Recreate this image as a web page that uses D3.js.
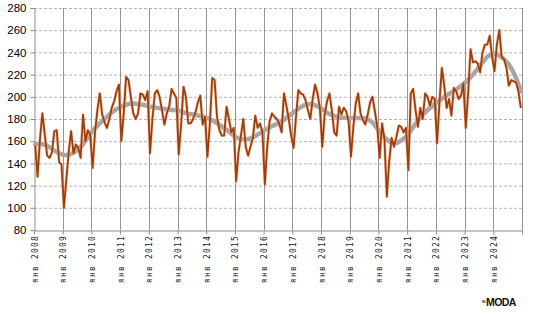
<!DOCTYPE html>
<html>
<head>
<meta charset="utf-8">
<script src="https://cdn.jsdelivr.net/npm/d3@7"></script>
<style>
  html, body { margin: 0; padding: 0; background: #fff; }
  svg { display: block; }
</style>
</head>
<body>
<div id="chart"></div>
<script>
// годы (категории оси X)
const years = [2008, 2009, 2010, 2011, 2012, 2013, 2014, 2015, 2016,
               2017, 2018, 2019, 2020, 2021, 2022, 2023, 2024];
const monthLabel = "янв";

// помесячные значения индекса, янв..дек
const v2008 = [156, 128, 162, 185, 166, 147, 145, 150, 169, 170, 141, 139];
const v2009 = [100, 125, 150, 169, 149, 157, 154, 145, 184, 160, 170, 166];
const v2010 = [136, 168, 188, 203, 184, 177, 172, 180, 190, 196, 205, 211];
const v2011 = [160, 185, 218, 215, 200, 185, 180, 185, 203, 202, 197, 205];
const v2012 = [149, 180, 203, 206, 200, 188, 175, 185, 191, 207, 203, 199];
const v2013 = [148, 175, 209, 200, 176, 176, 180, 186, 195, 201, 175, 182];
const v2014 = [146, 175, 217, 215, 182, 170, 165, 165, 191, 180, 168, 172];
const v2015 = [124, 150, 165, 180, 155, 147, 155, 163, 183, 172, 176, 168];
const v2016 = [121, 155, 178, 185, 182, 180, 176, 168, 203, 192, 180, 165];
const v2017 = [154, 181, 206, 203, 202, 197, 188, 180, 198, 211, 203, 190];
const v2018 = [155, 184, 196, 203, 188, 168, 165, 191, 184, 190, 187, 178];
const v2019 = [146, 173, 194, 203, 185, 179, 175, 184, 195, 200, 187, 173];
const v2020 = [145, 176, 162, 110, 142, 163, 155, 164, 174, 173, 168, 172];
const v2021 = [134, 203, 207, 188, 173, 190, 180, 203, 200, 192, 200, 198];
const v2022 = [158, 195, 226, 210, 190, 198, 183, 208, 205, 198, 201, 212];
const v2023 = [172, 204, 243, 231, 232, 230, 222, 240, 247, 247, 255, 236];
const v2024 = [223, 247, 260, 236, 234, 226, 210, 215, 214, 213, 205, 190];

const trend = [157, 158, 155, 150, 147, 148, 152, 160, 170, 176, 182, 188,
               191, 194, 194, 193, 191, 190, 189, 188, 188, 185, 184, 183,
               181, 178, 173, 169, 163, 161, 162, 166, 170, 174, 176, 181,
               186, 191, 194, 193, 189, 184, 182, 181, 181, 181, 181, 178,
               168, 161, 157, 160, 166, 176, 184, 190, 195, 200, 204, 208,
               213, 220, 228, 237, 240, 236, 230, 218, 205];

const yTicks = [80, 100, 120, 140, 160, 180, 200, 220, 240, 260, 280];

const series = [v2008, v2009, v2010, v2011, v2012, v2013, v2014, v2015, v2016,
                v2017, v2018, v2019, v2020, v2021, v2022, v2023, v2024].flat();
const nMonths = years.length * 12;

const W = 541, H = 316;
const plotLeft = 34, plotRight = 522, plotTop = 8, plotBottom = 230;

const svg = d3.select("#chart").append("svg")
    .attr("width", W)
    .attr("height", H);

const x = d3.scaleLinear().domain([0, nMonths]).range([plotLeft, plotRight]);
const y = d3.scaleLinear().domain([80, 280]).range([plotBottom, plotTop]);

// горизонтальная сетка (пунктир)
svg.append("g")
    .selectAll("line")
    .data(yTicks.filter(d => d > 80))
    .join("line")
    .attr("x1", plotLeft).attr("x2", plotRight)
    .attr("y1", d => y(d) + 0.5).attr("y2", d => y(d) + 0.5)
    .attr("stroke", "#b4b4b4")
    .attr("stroke-dasharray", "3,2");

// вертикальная сетка по годам
const yearTicks = years.map((d, i) => i * 12).concat([nMonths]);
svg.append("g")
    .selectAll("line")
    .data(yearTicks.slice(1))
    .join("line")
    .attr("x1", d => Math.round(x(d)) + 0.5).attr("x2", d => Math.round(x(d)) + 0.5)
    .attr("y1", plotTop).attr("y2", plotBottom)
    .attr("stroke", "#939393");

// ось Y
const yAxis = svg.append("g")
    .attr("transform", `translate(${plotLeft + 0.5},0)`)
    .call(d3.axisLeft(y).tickValues(yTicks).tickSize(4).tickPadding(4).tickSizeOuter(0));
yAxis.select(".domain").attr("stroke", "#8c8c8c");
yAxis.selectAll(".tick line").attr("stroke", "#8c8c8c");
yAxis.selectAll("text")
    .attr("font-family", "Liberation Sans, Arial, sans-serif")
    .attr("font-size", 11.5)
    .attr("fill", "#000");

// ось X
const xAxis = svg.append("g")
    .attr("transform", `translate(0,${plotBottom + 0.5})`)
    .call(d3.axisBottom(x).tickValues(yearTicks).tickSize(4).tickSizeOuter(0).tickFormat(""));
xAxis.select(".domain").attr("stroke", "#8c8c8c");
xAxis.selectAll(".tick line").attr("stroke", "#8c8c8c");

svg.append("g")
    .selectAll("text")
    .data(years)
    .join("text")
    .attr("transform", (d, i) => `translate(${x(i * 12) + 1},${plotBottom + 5}) rotate(-90)`)
    .attr("text-anchor", "end")
    .attr("dominant-baseline", "central")
    .attr("font-family", "DejaVu Sans Mono, monospace")
    .attr("font-size", 8)
    .attr("letter-spacing", 1.2)
    .attr("fill", "#222")
    .text(d => `${monthLabel} ${d}`);

// линия тренда
const trendLine = d3.line()
    .x((d, i) => x(Math.min(i * 3, nMonths - 1) + 0.5))
    .y(d => y(d))
    .curve(d3.curveBasis);

svg.append("path")
    .datum(trend)
    .attr("fill", "none")
    .attr("stroke", "#a6a6a6")
    .attr("stroke-width", 4.5)
    .attr("stroke-linecap", "round")
    .attr("d", trendLine);

// основной ряд
const line = d3.line()
    .x((d, i) => x(i + 0.5))
    .y(d => y(d));

svg.append("path")
    .datum(series)
    .attr("fill", "none")
    .attr("stroke", "#f2b48a")
    .attr("stroke-opacity", 0.6)
    .attr("stroke-width", 3.2)
    .attr("stroke-linejoin", "round")
    .attr("d", line);

svg.append("path")
    .datum(series)
    .attr("fill", "none")
    .attr("stroke", "#9e3c0c")
    .attr("stroke-width", 1.8)
    .attr("stroke-linejoin", "round")
    .attr("d", line);

// логотип
const logo = svg.append("g").attr("transform", "translate(482,306)");
logo.append("text")
    .attr("x", 0).attr("y", -3)
    .attr("font-family", "Liberation Sans, Arial, sans-serif")
    .attr("font-size", 3.5)
    .attr("font-weight", "bold")
    .attr("fill", "#222")
    .text("IN");
logo.append("text")
    .attr("x", 4)
    .attr("font-family", "Liberation Sans, Arial, sans-serif")
    .attr("font-size", 10.5)
    .attr("font-weight", "bold")
    .attr("letter-spacing", -0.6)
    .attr("fill", "#111")
    .text("MODA");
</script>
</body>
</html>
